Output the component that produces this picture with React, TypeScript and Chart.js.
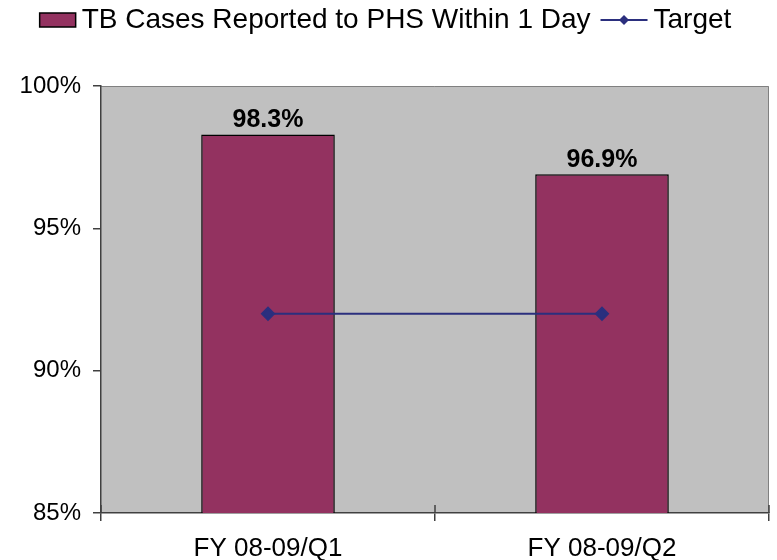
import React, { useEffect, useRef } from "react";
import { Chart, registerables } from "chart.js";
Chart.register(...registerables);

const categories = ["FY 08-09/Q1", "FY 08-09/Q2"];
const casesReported = [98.3, 96.9];
const targetValues = [92, 92];
const seriesNames = ["TB Cases Reported to PHS Within 1 Day", "Target"];
const yMin = 85;
const yMax = 100;
const yStep = 5;

const FONT = "'Liberation Sans', Arial, Helvetica, sans-serif";
const BAR = "#933260";
const LINE = "#2B2F7E";
const PLOT_BG = "#C0C0C0";
const AXIS = "#404040";

const W = 777, H = 560;
const L = 101, R = 771, T = 86, B = 513;

const plotBg = {
  id: "plotBg",
  beforeDraw(chart: any) {
    const { ctx, chartArea: a } = chart;
    ctx.save();
    ctx.fillStyle = "#fff";
    ctx.fillRect(0, 0, chart.width, chart.height);
    ctx.fillStyle = PLOT_BG;
    ctx.fillRect(a.left, a.top, a.right - a.left, a.bottom - a.top);
    ctx.strokeStyle = "#808080";
    ctx.lineWidth = 1;
    ctx.beginPath();
    ctx.moveTo(a.left, a.top + 0.5);
    ctx.lineTo(a.right - 0.5, a.top + 0.5);
    ctx.lineTo(a.right - 0.5, a.bottom);
    ctx.stroke();
    ctx.restore();
  },
  afterDraw(chart: any) {
    const { ctx, chartArea: a } = chart;
    const n = chart.data.labels.length;
    ctx.save();
    ctx.strokeStyle = AXIS;
    ctx.lineWidth = 1.5;
    for (let i = 0; i <= n; i++) {
      const x = Math.round(a.left + (i * (a.right - a.left)) / n);
      ctx.beginPath();
      ctx.moveTo(x, a.bottom - 8);
      ctx.lineTo(x, a.bottom);
      ctx.stroke();
    }
    ctx.restore();
  },
};

const dataLabels = {
  id: "dataLabels",
  afterDatasetsDraw(chart: any) {
    const { ctx } = chart;
    const meta = chart.getDatasetMeta(0);
    ctx.save();
    ctx.font = `bold 25px ${FONT}`;
    ctx.fillStyle = "#000";
    ctx.textAlign = "center";
    ctx.textBaseline = "alphabetic";
    meta.data.forEach((el: any, i: number) => {
      const v = chart.data.datasets[0].data[i];
      ctx.fillText(v.toFixed(1) + "%", el.x, el.y - 7);
    });
    ctx.restore();
  },
};

const customLegend = {
  id: "customLegend",
  afterDraw(chart: any) {
    const { ctx } = chart;
    ctx.save();
    ctx.font = `28px ${FONT}`;
    ctx.textBaseline = "middle";
    const boxW = 36, boxH = 14, gap = 6, lineW = 47, between = 10;
    const t1 = ctx.measureText(seriesNames[0]).width;
    const t2 = ctx.measureText(seriesNames[1]).width;
    const total = boxW + gap + t1 + between + lineW + gap + t2;
    let x = (W - total) / 2 - 3;
    const y = 20;
    ctx.fillStyle = BAR;
    ctx.fillRect(x, y - boxH / 2, boxW, boxH);
    ctx.strokeStyle = "#000";
    ctx.lineWidth = 1.5;
    ctx.strokeRect(x, y - boxH / 2, boxW, boxH);
    x += boxW + gap;
    ctx.fillStyle = "#000";
    ctx.fillText(seriesNames[0], x, y);
    x += t1 + between;
    ctx.strokeStyle = LINE;
    ctx.lineWidth = 2;
    ctx.beginPath();
    ctx.moveTo(x, y);
    ctx.lineTo(x + lineW, y);
    ctx.stroke();
    ctx.fillStyle = LINE;
    const cx = x + lineW / 2;
    ctx.beginPath();
    ctx.moveTo(cx, y - 5);
    ctx.lineTo(cx + 5, y);
    ctx.lineTo(cx, y + 5);
    ctx.lineTo(cx - 5, y);
    ctx.closePath();
    ctx.fill();
    x += lineW + gap;
    ctx.fillStyle = "#000";
    ctx.fillText(seriesNames[1], x, y);
    ctx.restore();
  },
};

export default function App() {
  const ref = useRef<HTMLCanvasElement | null>(null);
  useEffect(() => {
    if (!ref.current) return;
    const chart = new Chart(ref.current, {
      type: "bar",
      data: {
        labels: categories,
        datasets: [
          {
            type: "bar",
            label: seriesNames[0],
            data: casesReported,
            backgroundColor: BAR,
            borderColor: "#000",
            borderWidth: 1.5,
            categoryPercentage: 1,
            barPercentage: 0.4,
            order: 1,
          } as any,
          {
            type: "line",
            label: seriesNames[1],
            data: targetValues,
            borderColor: LINE,
            backgroundColor: LINE,
            borderWidth: 2,
            pointStyle: "rectRot",
            pointRadius: 6,
            pointBackgroundColor: LINE,
            pointBorderColor: LINE,
            order: 0,
          } as any,
        ],
      },
      options: {
        responsive: false,
        devicePixelRatio: 1,
        animation: false,
        layout: { padding: { top: T, right: W - R, left: 0, bottom: 0 } },
        plugins: { legend: { display: false }, tooltip: { enabled: false } },
        scales: {
          x: {
            offset: true,
            grid: { offset: true, drawOnChartArea: false, drawTicks: true, tickLength: 8, color: AXIS, lineWidth: 1.5 },
            border: { display: true, color: AXIS, width: 1.5 },
            ticks: { color: "#000", font: { family: FONT, size: 26 }, padding: 12 },
            afterFit: (s: any) => { s.height = H - B; },
          },
          y: {
            min: yMin,
            max: yMax,
            grid: { drawOnChartArea: false, drawTicks: true, tickLength: 8, color: AXIS, lineWidth: 1.5 },
            border: { display: true, color: AXIS, width: 1.5 },
            ticks: { stepSize: yStep, color: "#000", font: { family: FONT, size: 24 }, padding: 12, callback: (v: any) => v + "%" },
            afterFit: (s: any) => { s.width = L; },
          },
        },
      },
      plugins: [plotBg, dataLabels, customLegend],
    });
    return () => chart.destroy();
  }, []);
  return (
    <div style={{ position: "absolute", left: 0, top: 0, width: W, height: H }}>
      <canvas ref={ref} width={W} height={H} style={{ width: W, height: H }} />
    </div>
  );
}
